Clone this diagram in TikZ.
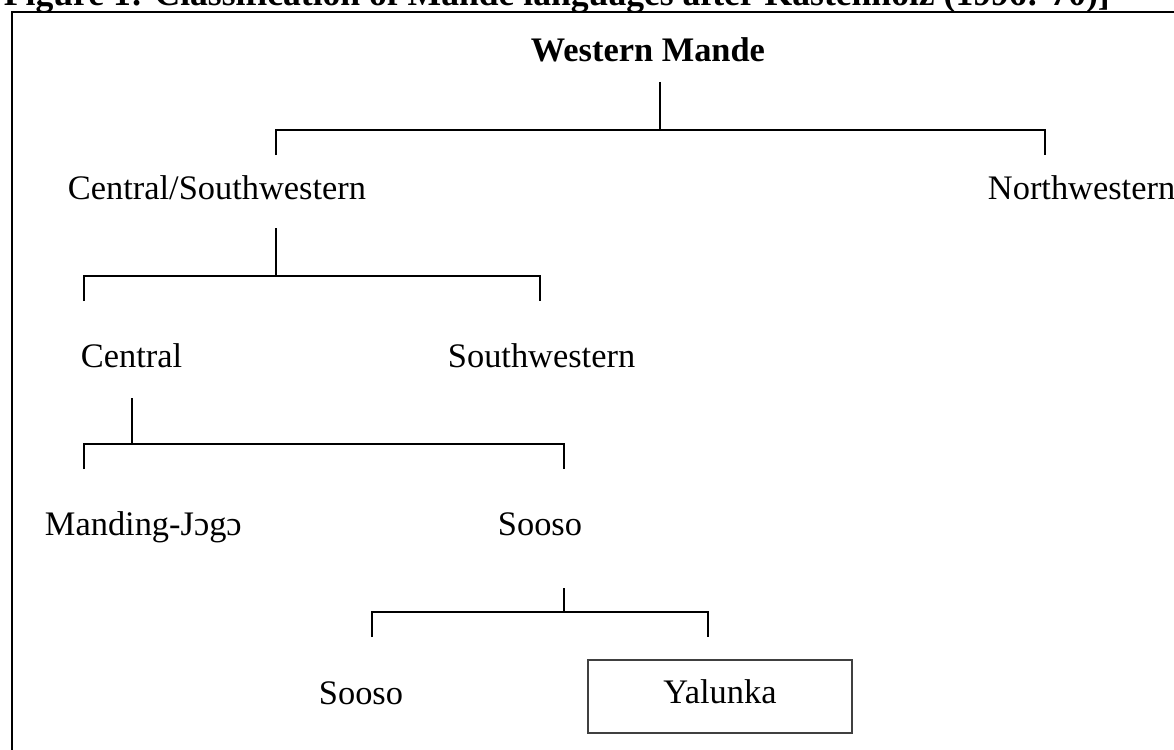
\documentclass[tikz,border=0pt]{standalone}
\usepackage{fontspec}
\setmainfont{Liberation Serif}

\begin{document}
\begin{tikzpicture}[x=1pt,y=-1pt,line width=1.9pt,
	lang/.style={anchor=base west,inner sep=0pt,font=\fontsize{34.4}{40}\selectfont},
	leaf/.style={draw=black!75,line width=1.3pt,inner sep=0pt,minimum width=264pt,minimum height=73pt,
		text height=23pt,text depth=10pt,font=\fontsize{34.4}{40}\selectfont}]
	\useasboundingbox (0,0) rectangle (1174,749);
	\node[lang,font=\fontsize{35.6}{40}\selectfont\bfseries] (cap) at (3,6) {Figure 1: Classification of Mande languages after Kastenholz (1996: 70)]};
	\draw (12,12) rectangle (1200,780);
	% the names
	\node[lang,font=\fontsize{34.4}{40}\selectfont\bfseries] (wm) at (530,62) {Western Mande};
	\node[lang] (csw) at (67,199) {Central/Southwestern};
	\node[lang] (nw) at (987,199) {Northwestern};
	\node[lang] (cen) at (80,367) {Central};
	\node[lang] (sw) at (447,367) {Southwestern};
	\node[lang] (mj) at (44,535) {Manding-Jɔgɔ};
	\node[lang] (soo) at (497,535) {Sooso};
	\node[lang] (soo2) at (318,704) {Sooso};
	\node[leaf] (yal) at (720,696.5) {Yalunka};
	% the brackets
	\coordinate (a0) at (660,82);  \coordinate (a1) at (660,130);
	\coordinate (aL) at (276,155); \coordinate (aR) at (1045,155);
	\draw (a0)--(a1); \draw (aL) |- (a1) -| (aR);
	\coordinate (b0) at (276,228); \coordinate (b1) at (276,276);
	\coordinate (bL) at (84,301);  \coordinate (bR) at (540,301);
	\draw (b0)--(b1); \draw (bL) |- (b1) -| (bR);
	\coordinate (c0) at (132,398); \coordinate (c1) at (132,444);
	\coordinate (cL) at (84,469);  \coordinate (cR) at (564,469);
	\draw (c0)--(c1); \draw (cL) |- (c1) -| (cR);
	\coordinate (d0) at (564,588); \coordinate (d1) at (564,612);
	\coordinate (dL) at (372,637); \coordinate (dR) at (708,637);
	\draw (d0)--(d1); \draw (dL) |- (d1) -| (dR);
\end{tikzpicture}
\end{document}
